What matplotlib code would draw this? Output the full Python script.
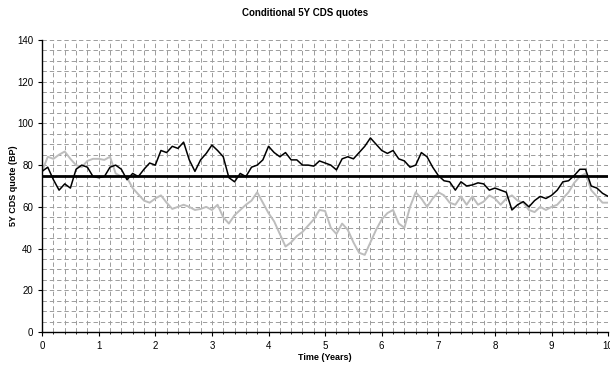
import matplotlib
matplotlib.use("Agg")
import matplotlib.pyplot as plt
import numpy as np

# time grid (years), values every 0.1 years
years = np.round(np.arange(0, 10.01, 0.1), 1)

# conditional quote path (black)
black_quotes = [
    77, 79, 73, 68, 71, 69, 78, 80, 79, 74.5,
    74, 74.5, 79, 80, 78, 73, 76, 74.5, 78, 81,
    80, 87, 86, 89, 88, 91, 82.5, 77, 82.5, 85.6,
    89.6, 87, 84, 74, 72, 76, 74.5, 79, 80, 82.5,
    89, 86, 84, 86, 82.5, 82.5, 80, 80, 79.5, 82,
    81, 80, 77.7, 83, 84, 83, 86, 89, 93, 90,
    87, 85.6, 87, 83, 82, 79, 80, 86, 84, 79,
    75, 72.5, 72, 68, 72, 70, 70.5, 71.5, 71, 68,
    69, 68, 67, 58.5, 61, 62.5, 60, 63, 65, 64,
    65.5, 68, 72, 72.5, 75, 78, 78, 70, 69, 66.5,
    65,
]

# second quote path (grey)
grey_quotes = [
    77, 84, 83, 85, 86.5, 83, 80, 79, 82, 83,
    83, 82.5, 84, 76, 74.5, 74, 69, 66, 63, 62,
    64, 65.5, 62, 59, 60, 61, 60, 58.5, 59, 60,
    58.5, 61, 55, 52, 56, 58.5, 61, 63, 67, 62,
    57, 53, 47, 41, 43, 46, 48, 51, 54, 58.5,
    58, 50, 47, 52, 49, 43, 38, 37, 43, 49,
    54, 57, 58.5, 52, 50, 60, 67, 64, 60, 64,
    67, 65.5, 62, 61, 65, 61, 65, 61, 62.5, 65.5,
    64, 61, 64, 65.5, 63, 62, 58.5, 57.5, 60, 58.5,
    60, 61, 64, 67, 71.5, 74.5, 76, 68, 65, 62,
    62,
]

initial_quote = 75

plt.rcParams['font.family'] = ['Liberation Sans', 'DejaVu Sans']

fig = plt.figure(figsize=(6.10, 3.69), dpi=100)
ax = fig.add_axes([0.069, 0.100, 0.928, 0.792])

# excel style dashed grid
grid_style = dict(color='#9c9c9c', lw=0.7, ls=(0, (4.5, 3)), zorder=0)
for yv in np.arange(5, 141, 5):
    ax.axhline(yv, **grid_style)
for xv in np.arange(0.2, 10.01, 0.2):
    ax.axvline(xv, **grid_style)

ax.plot(years, grey_quotes, color='#bdbdbd', lw=1.4, zorder=2)
ax.plot(years, black_quotes, color='black', lw=1.1, zorder=3)
ax.axhline(initial_quote, color='black', lw=2.0, zorder=4)

ax.set_xlim(0, 10)
ax.set_ylim(0, 140)
ax.set_xticks(range(0, 11))
ax.set_xticks(np.arange(0, 10.01, 0.2), minor=True)
ax.set_yticks(range(0, 141, 20))
ax.tick_params(labelsize=7, length=3, width=0.8, direction='out')
ax.tick_params(axis='x', which='minor', length=1.5, width=0.6)
ax.tick_params(axis='y', which='minor', length=0)

for side in ['top', 'right']:
    ax.spines[side].set_visible(False)
ax.spines['left'].set_linewidth(1.0)
ax.spines['bottom'].set_linewidth(1.0)

ax.set_xlabel('Time (Years)', fontsize=6.5, fontweight='bold', labelpad=1)
fig.text(0.022, 0.496, '5Y CDS quote (BP)', rotation=90, fontsize=6.5,
         fontweight='bold', ha='center', va='center')
fig.suptitle('Conditional 5Y CDS quotes', fontsize=7, fontweight='bold', y=0.978)

fig.savefig('out.png', dpi=100)
